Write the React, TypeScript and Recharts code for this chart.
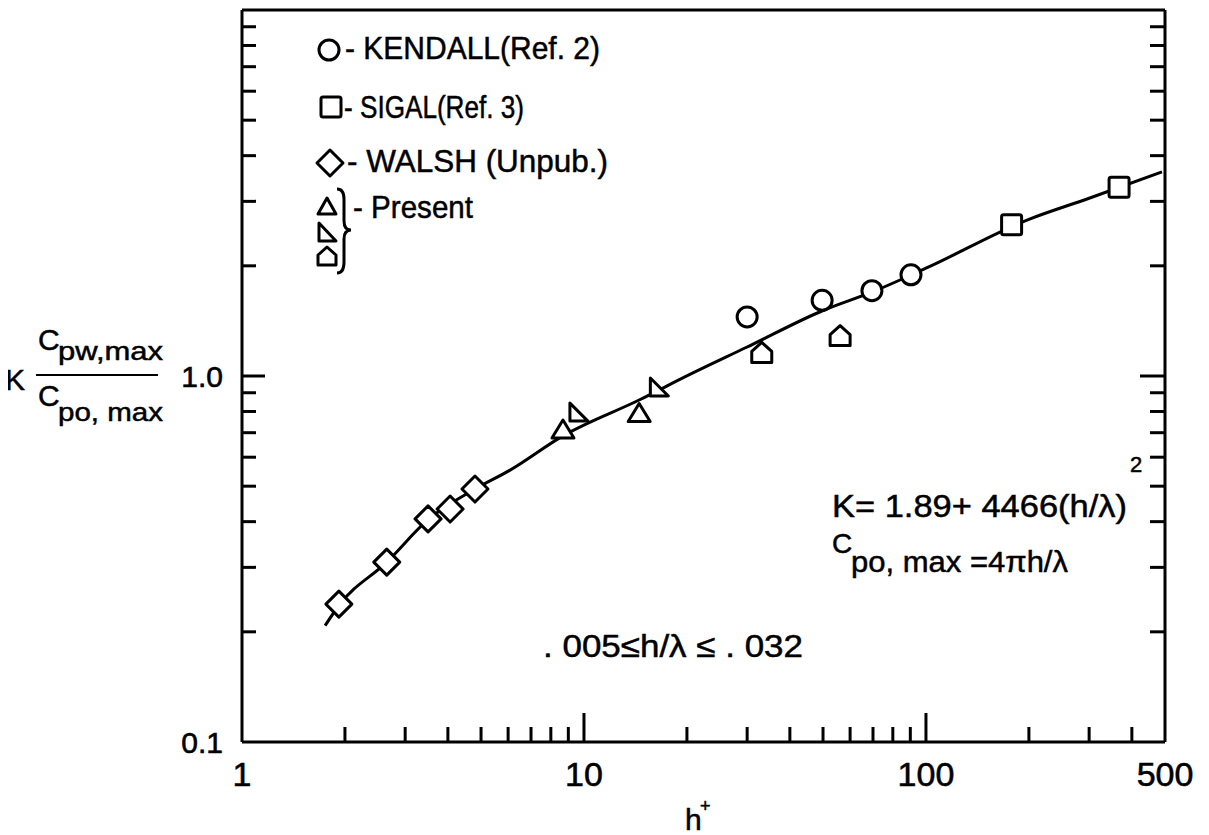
import React from 'react';
import { ComposedChart, Line, Scatter, XAxis, YAxis } from 'recharts';

// ---- data ----
const curveX = [1.75, 1.92, 2.65, 3.5, 4.8, 6.08, 8.68, 14.5, 20.4, 30, 50, 70, 100, 200, 300, 490];
const curveY = [0.208, 0.236, 0.31, 0.405, 0.491, 0.553, 0.686, 0.86, 1.01, 1.2, 1.51, 1.7, 1.97, 2.68, 3.06, 3.61];

const kendallX = [30.0, 49.7, 69.5, 90.4];
const kendallY = [1.45, 1.61, 1.71, 1.89];

const sigalX = [178, 367];
const sigalY = [2.59, 3.28];

const walshX = [1.92, 2.65, 3.5, 4.06, 4.8];
const walshY = [0.238, 0.31, 0.407, 0.433, 0.491];

const presentUpX = [8.68, 14.5];
const presentUpY = [0.712, 0.79];
const presentRightX = [9.6, 16.5];
const presentRightY = [0.792, 0.927];
const presentHouseX = [33.1, 56.1];
const presentHouseY = [1.16, 1.29];

const xTicks = [1, 2, 3, 4, 5, 6, 7, 8, 9, 10, 20, 30, 40, 50, 60, 70, 80, 90, 100, 200, 300, 400, 500];
const xMajor = [1, 10, 100];
const xLabelValues = [1, 10, 100, 500];
const xLabelTexts = ['1', '10', '100', '500'];

const yTicks = [0.1, 0.2, 0.3, 0.4, 0.5, 0.6, 0.7, 0.8, 0.9, 1, 2, 3, 4, 5, 6, 7, 8, 9, 10];
const yMajor = [1];
const yLabelValues = [0.1, 1];
const yLabelTexts = ['0.1', '1.0'];

const zip = (xs: number[], ys: number[]) => xs.map((x, i) => ({ x, y: ys[i] }));
const curveData = zip(curveX, curveY);
const kendallData = zip(kendallX, kendallY);
const sigalData = zip(sigalX, sigalY);
const walshData = zip(walshX, walshY);
const presentUpData = zip(presentUpX, presentUpY);
const presentRightData = zip(presentRightX, presentRightY);
const presentHouseData = zip(presentHouseX, presentHouseY);

const FONT = "'Liberation Sans', Arial, sans-serif";
const SW = 3;

// ---- marker shapes ----
const CircleM = ({ cx, cy }: any) => (
  <circle cx={cx} cy={cy} r={10} fill="#fff" stroke="#000" strokeWidth={SW} />
);
const SquareM = ({ cx, cy }: any) => (
  <rect x={cx - 10} y={cy - 10} width={20} height={20} rx={2} fill="#fff" stroke="#000" strokeWidth={SW} />
);
const DiamondM = ({ cx, cy }: any) => (
  <path d={`M${cx},${cy - 13} L${cx + 13},${cy} L${cx},${cy + 13} L${cx - 13},${cy} Z`} fill="#fff" stroke="#000" strokeWidth={SW} strokeLinejoin="round" />
);
const UpTriM = ({ cx, cy }: any) => (
  <path d={`M${cx},${cy - 10} L${cx + 11},${cy + 8} L${cx - 11},${cy + 8} Z`} fill="#fff" stroke="#000" strokeWidth={SW} strokeLinejoin="round" />
);
const RightTriM = ({ cx, cy }: any) => (
  <path d={`M${cx - 8},${cy - 10} L${cx + 10},${cy + 8} L${cx - 8},${cy + 8} Z`} fill="#fff" stroke="#000" strokeWidth={SW} strokeLinejoin="round" />
);
const HouseM = ({ cx, cy }: any) => (
  <path d={`M${cx - 10},${cy + 10} L${cx + 10},${cy + 10} L${cx + 10},${cy - 1} L${cx},${cy - 10} L${cx - 10},${cy - 1} Z`} fill="#fff" stroke="#000" strokeWidth={SW} strokeLinejoin="round" />
);

// ---- axis ticks (drawn inward) ----
const BottomTick = (p: any) => {
  const v = p.payload.value;
  const major = xMajor.includes(v);
  const li = xLabelValues.indexOf(v);
  return (
    <g>
      {v !== 1 && v !== 500 && (
        <line x1={p.x} y1={p.y} x2={p.x} y2={p.y - (major ? 29 : 15)} stroke="#000" strokeWidth={SW} />
      )}
      {li >= 0 && (
        <text x={p.x} y={p.y + 44} textAnchor="middle" fontSize={34} fontFamily={FONT} fill="#000" stroke="#000" strokeWidth={0.6}>
          {xLabelTexts[li]}
        </text>
      )}
    </g>
  );
};
const TopTick = (p: any) => {
  const v = p.payload.value;
  if (v === 1 || v === 500) return <g />;
  const major = xMajor.includes(v);
  return <line x1={p.x} y1={p.y} x2={p.x} y2={p.y + (major ? 22 : 9)} stroke="#000" strokeWidth={SW} />;
};
const LeftTick = (p: any) => {
  const v = p.payload.value;
  const major = yMajor.includes(v);
  const li = yLabelValues.indexOf(v);
  return (
    <g>
      {v !== 0.1 && v !== 10 && (
        <line x1={p.x} y1={p.y} x2={p.x + (major ? 23 : 14)} y2={p.y} stroke="#000" strokeWidth={SW} />
      )}
      {li >= 0 && (
        <text x={p.x - 19} y={p.y + 11} textAnchor="end" fontSize={30} fontFamily={FONT} fill="#000" stroke="#000" strokeWidth={0.6}>
          {yLabelTexts[li]}
        </text>
      )}
    </g>
  );
};
const RightTick = (p: any) => {
  const v = p.payload.value;
  if (v === 0.1 || v === 10) return <g />;
  const major = yMajor.includes(v);
  return <line x1={p.x} y1={p.y} x2={p.x - (major ? 25 : 15)} y2={p.y} stroke="#000" strokeWidth={SW} />;
};

const axisLine = { stroke: '#000', strokeWidth: SW };

const T = (props: any) => (
  <text fontFamily={FONT} fill="#000" stroke="#000" strokeWidth={0.5} {...props} />
);

export default function App() {
  return (
    <div style={{ position: 'relative', width: 1200, height: 827 }}>
      <ComposedChart width={1200} height={827} margin={{ top: 1, right: 42, bottom: 92, left: 233 }}>
        <XAxis xAxisId="b" dataKey="x" type="number" scale="log" domain={[1, 500]} allowDataOverflow
          ticks={xTicks} interval={0} height={1} tickSize={0} tickMargin={0} tickLine={false}
          axisLine={axisLine} tick={<BottomTick />} />
        <XAxis xAxisId="t" orientation="top" type="number" scale="log" domain={[1, 500]} allowDataOverflow
          ticks={xTicks} interval={0} height={1} tickSize={0} tickMargin={0} tickLine={false}
          axisLine={axisLine} tick={<TopTick />} />
        <YAxis yAxisId="l" dataKey="y" type="number" scale="log" domain={[0.1, 10]} allowDataOverflow
          ticks={yTicks} interval={0} width={1} tickSize={0} tickMargin={0} tickLine={false}
          axisLine={axisLine} tick={<LeftTick />} />
        <YAxis yAxisId="r" orientation="right" type="number" scale="log" domain={[0.1, 10]} allowDataOverflow
          ticks={yTicks} interval={0} width={1} tickSize={0} tickMargin={0} tickLine={false}
          axisLine={axisLine} tick={<RightTick />} />
        <Line xAxisId="b" yAxisId="l" data={curveData} dataKey="y" type="monotone" stroke="#000" strokeWidth={3}
          dot={false} activeDot={false} isAnimationActive={false} />
        <Scatter xAxisId="b" yAxisId="l" data={walshData} dataKey="y" shape={<DiamondM />} isAnimationActive={false} />
        <Scatter xAxisId="b" yAxisId="l" data={kendallData} dataKey="y" shape={<CircleM />} isAnimationActive={false} />
        <Scatter xAxisId="b" yAxisId="l" data={sigalData} dataKey="y" shape={<SquareM />} isAnimationActive={false} />
        <Scatter xAxisId="b" yAxisId="l" data={presentUpData} dataKey="y" shape={<UpTriM />} isAnimationActive={false} />
        <Scatter xAxisId="b" yAxisId="l" data={presentRightData} dataKey="y" shape={<RightTriM />} isAnimationActive={false} />
        <Scatter xAxisId="b" yAxisId="l" data={presentHouseData} dataKey="y" shape={<HouseM />} isAnimationActive={false} />
      </ComposedChart>
      <svg width={1200} height={827} style={{ position: 'absolute', left: 0, top: 0, pointerEvents: 'none', overflow: 'visible' }}>
        {/* legend */}
        <CircleM cx={321} cy={42} />
        <T x={337} y={51} fontSize={32} textLength={255} lengthAdjust="spacingAndGlyphs">- KENDALL(Ref. 2)</T>
        <SquareM cx={323} cy={99} />
        <T x={336} y={110} fontSize={32} textLength={180} lengthAdjust="spacingAndGlyphs">- SIGAL(Ref. 3)</T>
        <DiamondM cx={322} cy={155} />
        <T x={339} y={164} fontSize={32} textLength={261} lengthAdjust="spacingAndGlyphs">- WALSH (Unpub.)</T>
        <path d="M310,206 L319,190 L328,206 Z" fill="#fff" stroke="#000" strokeWidth={SW} strokeLinejoin="round" />
        <path d="M311,215 L328,233 L311,233 Z" fill="#fff" stroke="#000" strokeWidth={SW} strokeLinejoin="round" />
        <path d="M310,257 L328,257 L328,247 L319,239 L310,247 Z" fill="#fff" stroke="#000" strokeWidth={SW} strokeLinejoin="round" />
        <path d="M329,181 Q336,181 336,191 L336,213 Q336,222 343,222 Q336,222 336,231 L336,254 Q336,265 329,265"
          fill="none" stroke="#000" strokeWidth={SW} />
        <T x={345} y={210} fontSize={32} textLength={120} lengthAdjust="spacingAndGlyphs">- Present</T>

        {/* equations */}
        <T x={824} y={509} fontSize={32} textLength={295} lengthAdjust="spacingAndGlyphs">K= 1.89+ 4466(h/λ)</T>
        <T x={1122} y={464} fontSize={22}>2</T>
        <T x={824} y={545} fontSize={28}>C</T>
        <T x={843} y={564} fontSize={30} textLength={217} lengthAdjust="spacingAndGlyphs">po, max =4πh/λ</T>
        <T x={535} y={649} fontSize={32} textLength={260} lengthAdjust="spacingAndGlyphs">. 005≤h/λ ≤ . 032</T>

        {/* y axis label */}
        <T x={-3} y={382} fontSize={30}>K</T>
        <T x={30} y={342} fontSize={30}>C</T>
        <T x={50} y={352} fontSize={26} textLength={105} lengthAdjust="spacingAndGlyphs">pw,max</T>
        <line x1={28} y1={367} x2={150} y2={367} stroke="#000" strokeWidth={2} />
        <T x={30} y={398} fontSize={30}>C</T>
        <T x={50} y={413} fontSize={26} textLength={105} lengthAdjust="spacingAndGlyphs">po, max</T>

        {/* x axis label */}
        <T x={677} y={822} fontSize={30}>h</T>
        <T x={692} y={804} fontSize={18}>+</T>
      </svg>
    </div>
  );
}
